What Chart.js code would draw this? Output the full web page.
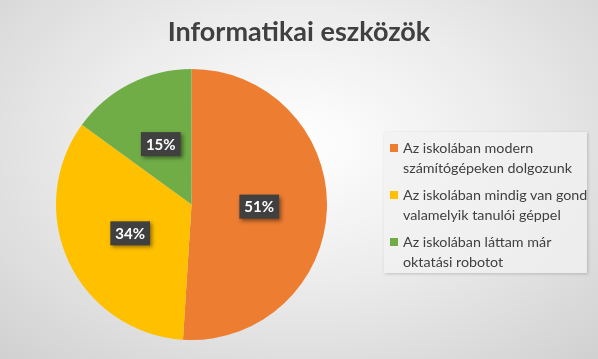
<!DOCTYPE html>
<html>
<head>
<meta charset="utf-8">
<script src="https://cdn.jsdelivr.net/npm/chart.js@4"></script>
<style>
  html, body { margin: 0; padding: 0; }
  #wrap {
    position: relative;
    width: 598px; height: 359px;
    background: radial-gradient(ellipse 75% 85% at 50% 40%, #ffffff 0%, #ececec 45%, #cfcfcf 100%);
    overflow: hidden;
  }
  #legend {
    position: absolute;
    left: 384px; top: 132px; width: 203px; height: 141px;
    background: rgba(242,242,242,0.75);
    box-shadow: 1px 1px 3px rgba(0,0,0,0.18);
    font-family: Lato, "Open Sans", sans-serif;
    font-size: 14.3px; color: #404040;
    box-sizing: border-box; padding: 6px 0 0 6px;
    white-space: nowrap;
  }
  .item { display: flex; align-items: flex-start; line-height: 19.5px; margin-bottom: 8px; }
  .box { width: 8px; height: 8px; margin: 6px 5px 0 0; flex: none; }
</style>
</head>
<body>
<div id="wrap">
  <canvas id="chart" width="598" height="359"></canvas>
  <div id="legend"></div>
</div>
<script>
// adatok
const cim = 'Informatikai eszközök';
const kategoriak = [
    ['Az iskolában modern', 'számítógépeken dolgozunk'],
    ['Az iskolában mindig van gond', 'valamelyik tanulói géppel'],
    ['Az iskolában láttam már', 'oktatási robotot']
];
const ertekek = [51, 34, 15];
const cimkek = ['51%', '34%', '15%'];
const szinek = ['#ED7D31', '#FFC000', '#70AD47'];

// jelmagyarázat (HTML)
const legendEl = document.getElementById('legend');
kategoriak.forEach((sorok, i) => {
    const div = document.createElement('div');
    div.className = 'item';
    div.innerHTML = '<span class="box" style="background:' + szinek[i] + '"></span><span>' + sorok.join('<br>') + '</span>';
    legendEl.appendChild(div);
});

// cím a vászon közepén
const cimRajz = {
    id: 'cimRajz',
    afterDraw(chart) {
        const ctx = chart.ctx;
        ctx.save();
        ctx.font = 'bold 27px Lato, "Open Sans", sans-serif';
        ctx.fillStyle = '#404040';
        ctx.textAlign = 'center';
        ctx.textBaseline = 'middle';
        ctx.fillText(cim, chart.width / 2, 32);
        ctx.restore();
    }
};

// százalék címkék sötét dobozban
const adatCimkek = {
    id: 'adatCimkek',
    afterDatasetsDraw(chart) {
        const ctx = chart.ctx;
        const meta = chart.getDatasetMeta(0);
        ctx.save();
        ctx.font = 'bold 15px Lato, "Open Sans", sans-serif';
        ctx.textAlign = 'center';
        ctx.textBaseline = 'middle';
        meta.data.forEach((arc, i) => {
            const p = arc.getCenterPoint();
            const w = ctx.measureText(cimkek[i]).width + 10;
            const h = 24;
            ctx.shadowColor = 'rgba(0,0,0,0.45)';
            ctx.shadowBlur = 4;
            ctx.shadowOffsetX = 2;
            ctx.shadowOffsetY = 2;
            ctx.fillStyle = '#404040';
            ctx.fillRect(p.x - w / 2, p.y - h / 2, w, h);
            ctx.shadowColor = 'transparent';
            ctx.fillStyle = '#ffffff';
            ctx.fillText(cimkek[i], p.x, p.y + 1);
        });
        ctx.restore();
    }
};

new Chart(document.getElementById('chart'), {
    type: 'pie',
    data: {
        labels: kategoriak.map(s => s.join(' ')),
        datasets: [{
            data: ertekek,
            backgroundColor: szinek,
            borderWidth: 0
        }]
    },
    options: {
        responsive: false,
        animation: false,
        layout: { padding: { left: 56, right: 271, bottom: 19, top: 69 } },
        plugins: {
            legend: { display: false },
            tooltip: { enabled: false },
            title: { display: false }
        }
    },
    plugins: [adatCimkek, cimRajz]
});
</script>
</body>
</html>
